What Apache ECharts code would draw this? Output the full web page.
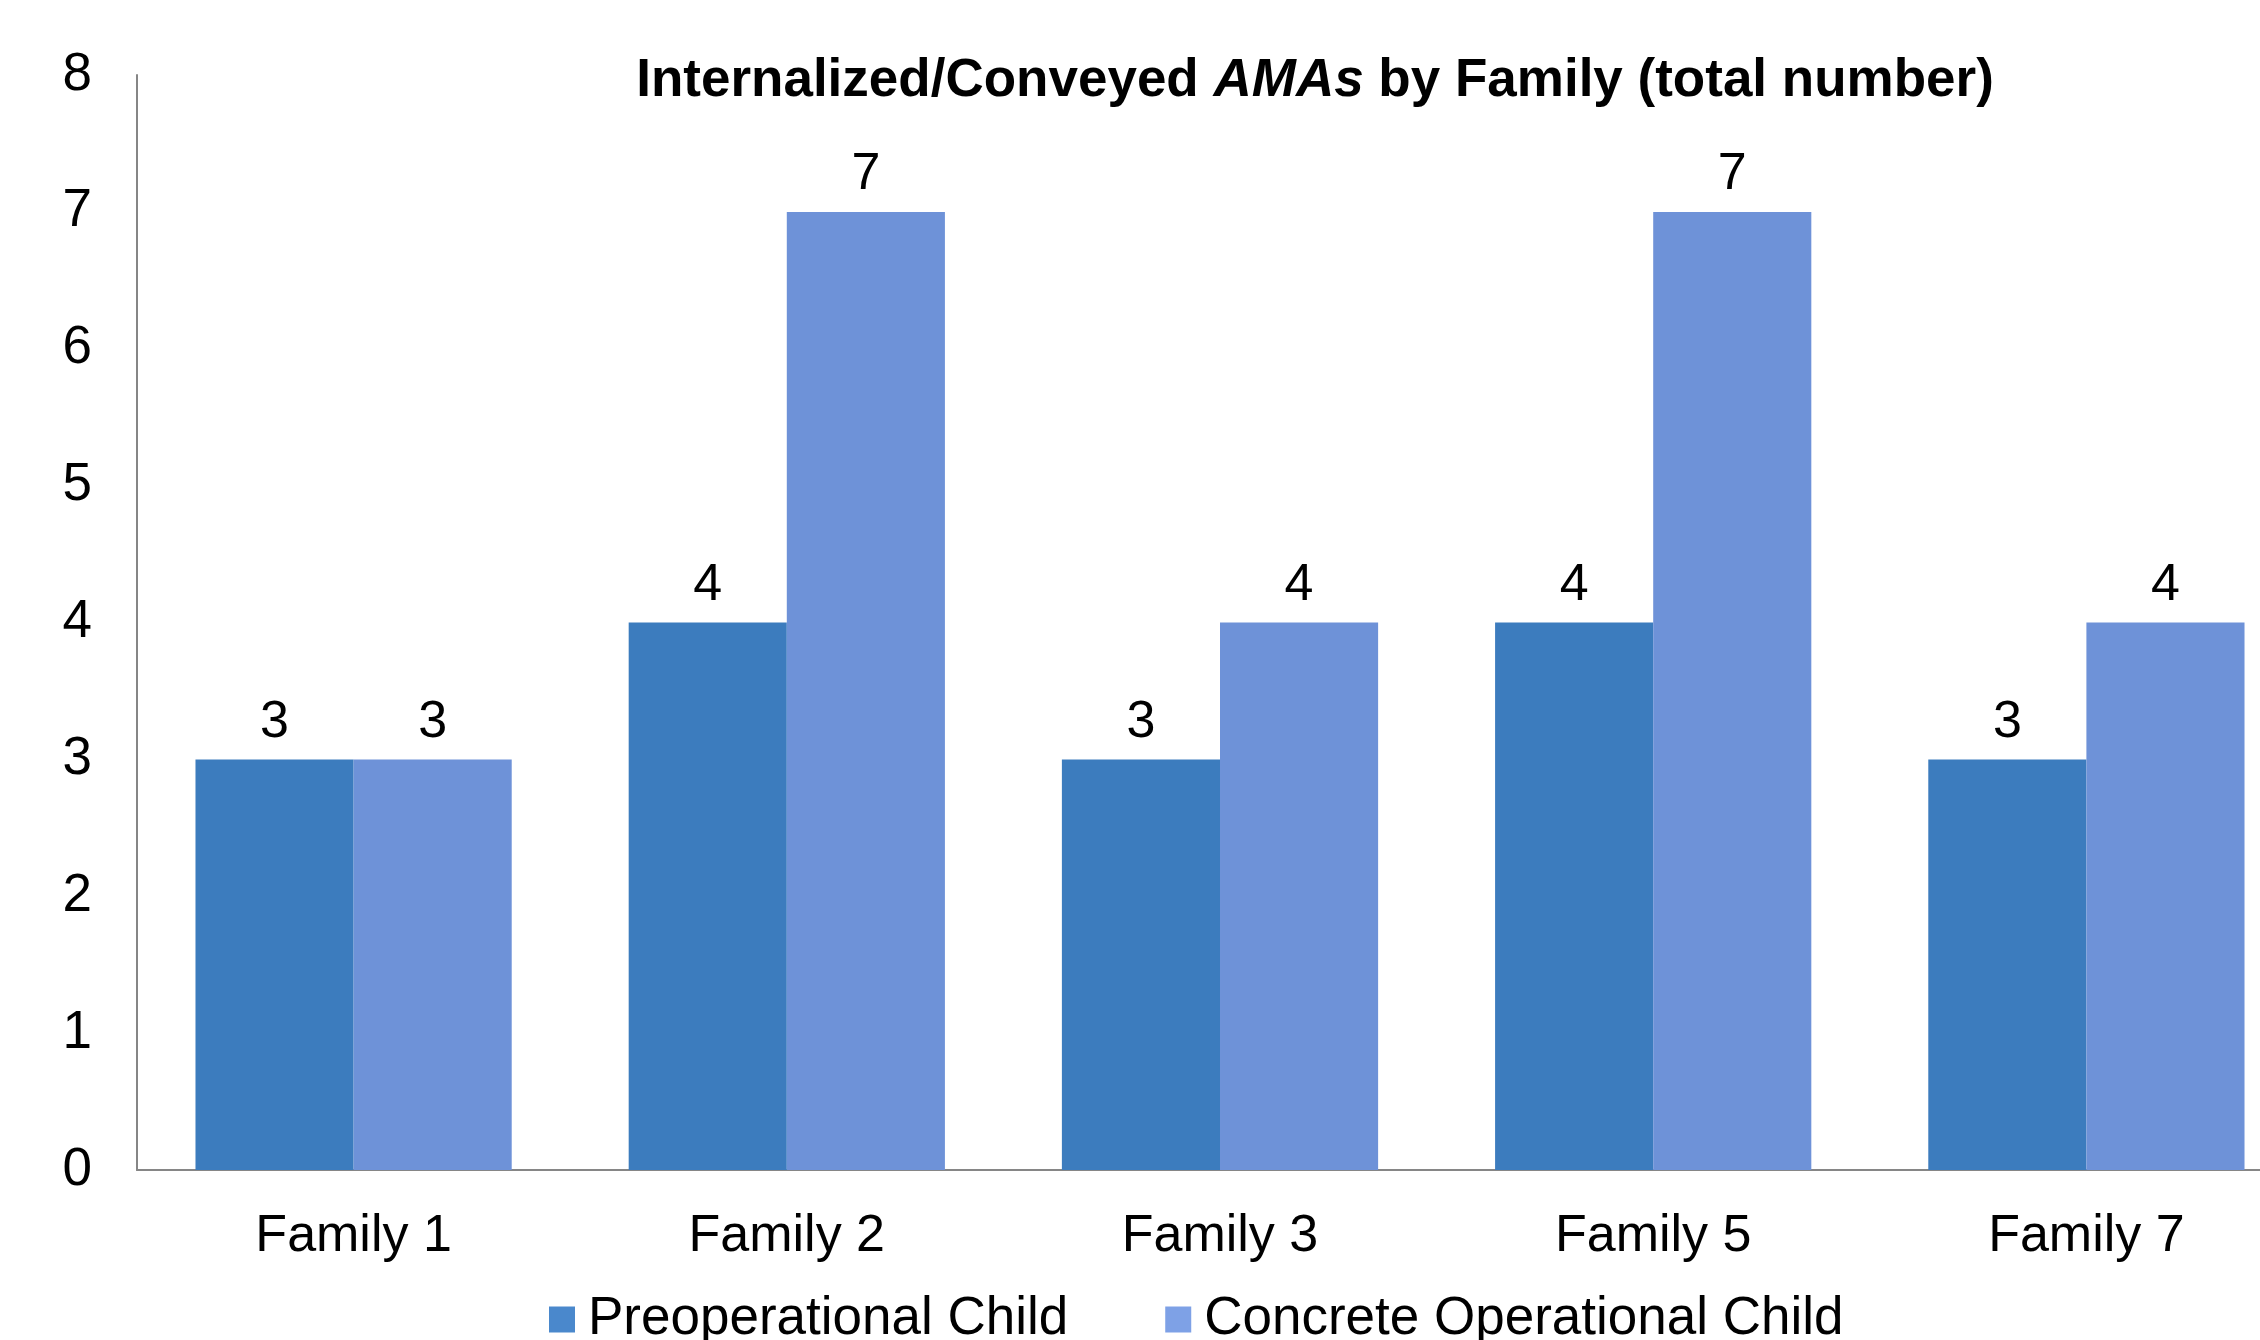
<!DOCTYPE html>
<html>
<head>
<meta charset="utf-8">
<script src="https://cdn.jsdelivr.net/npm/echarts@6/dist/echarts.min.js"></script>
<style>
  html, body { margin: 0; padding: 0; background: #fff; overflow: hidden; }
  #chart { width: 2303px; height: 1340px; }
</style>
</head>
<body>
<div id="chart"></div>
<script>
const families = ['Family 1', 'Family 2', 'Family 3', 'Family 5', 'Family 7'];
const preoperational = [3, 4, 3, 4, 3];
const concreteOperational = [3, 7, 4, 7, 4];
const yTicks = [0, 1, 2, 3, 4, 5, 6, 7, 8];

const font = '"Liberation Sans", Arial, sans-serif';
const chart = echarts.init(document.getElementById('chart'));

const label = {
  show: true,
  position: 'top',
  distance: 11,
  color: '#000',
  fontFamily: font,
  fontSize: 52
};

// plot area runs past the right edge of the page, as in the original picture
chart.setOption({
  backgroundColor: '#fff',
  animation: false,
  title: {
    text: '{b|Internalized/Conveyed }{i|AMAs}{b| by Family (total number)}',
    left: 1310,
    textAlign: 'center',
    top: 50,
    textStyle: {
      rich: {
        b: { fontFamily: font, fontWeight: 'bold', fontSize: 53, color: '#000' },
        i: { fontFamily: font, fontWeight: 'bold', fontStyle: 'italic', fontSize: 53, color: '#000' }
      }
    }
  },
  legend: {
    top: 1288,
    left: 544,
    itemWidth: 26,
    itemHeight: 26,
    itemGap: 97,
    icon: 'rect',
    textStyle: { fontFamily: font, fontSize: 53, color: '#000', padding: [0, 0, 0, 8] },
    data: [
      { name: 'Preoperational Child', itemStyle: { color: '#4a88cc' } },
      { name: 'Concrete Operational Child', itemStyle: { color: '#7ea1e6' } }
    ]
  },
  grid: { left: 137, top: 75, right: 0, height: 1095 },
  xAxis: {
    type: 'category',
    data: families,
    axisLine: { lineStyle: { color: '#868686', width: 2 } },
    axisTick: { show: false },
    axisLabel: { color: '#000', fontFamily: font, fontSize: 52, margin: 41 }
  },
  yAxis: {
    type: 'value',
    min: yTicks[0],
    max: yTicks[yTicks.length - 1],
    interval: 1,
    axisLine: { show: true, lineStyle: { color: '#868686', width: 2 } },
    axisTick: { show: false },
    splitLine: { show: false },
    axisLabel: { color: '#000', fontFamily: font, fontSize: 53, margin: 45 }
  },
  series: [
    {
      name: 'Preoperational Child',
      type: 'bar',
      data: preoperational,
      barGap: '0%',
      barCategoryGap: '27%',
      itemStyle: { color: '#3c7cbe' },
      label: label
    },
    {
      name: 'Concrete Operational Child',
      type: 'bar',
      data: concreteOperational,
      barGap: '0%',
      barCategoryGap: '27%',
      itemStyle: { color: '#6e92d8' },
      label: label
    }
  ]
});
</script>
</body>
</html>
